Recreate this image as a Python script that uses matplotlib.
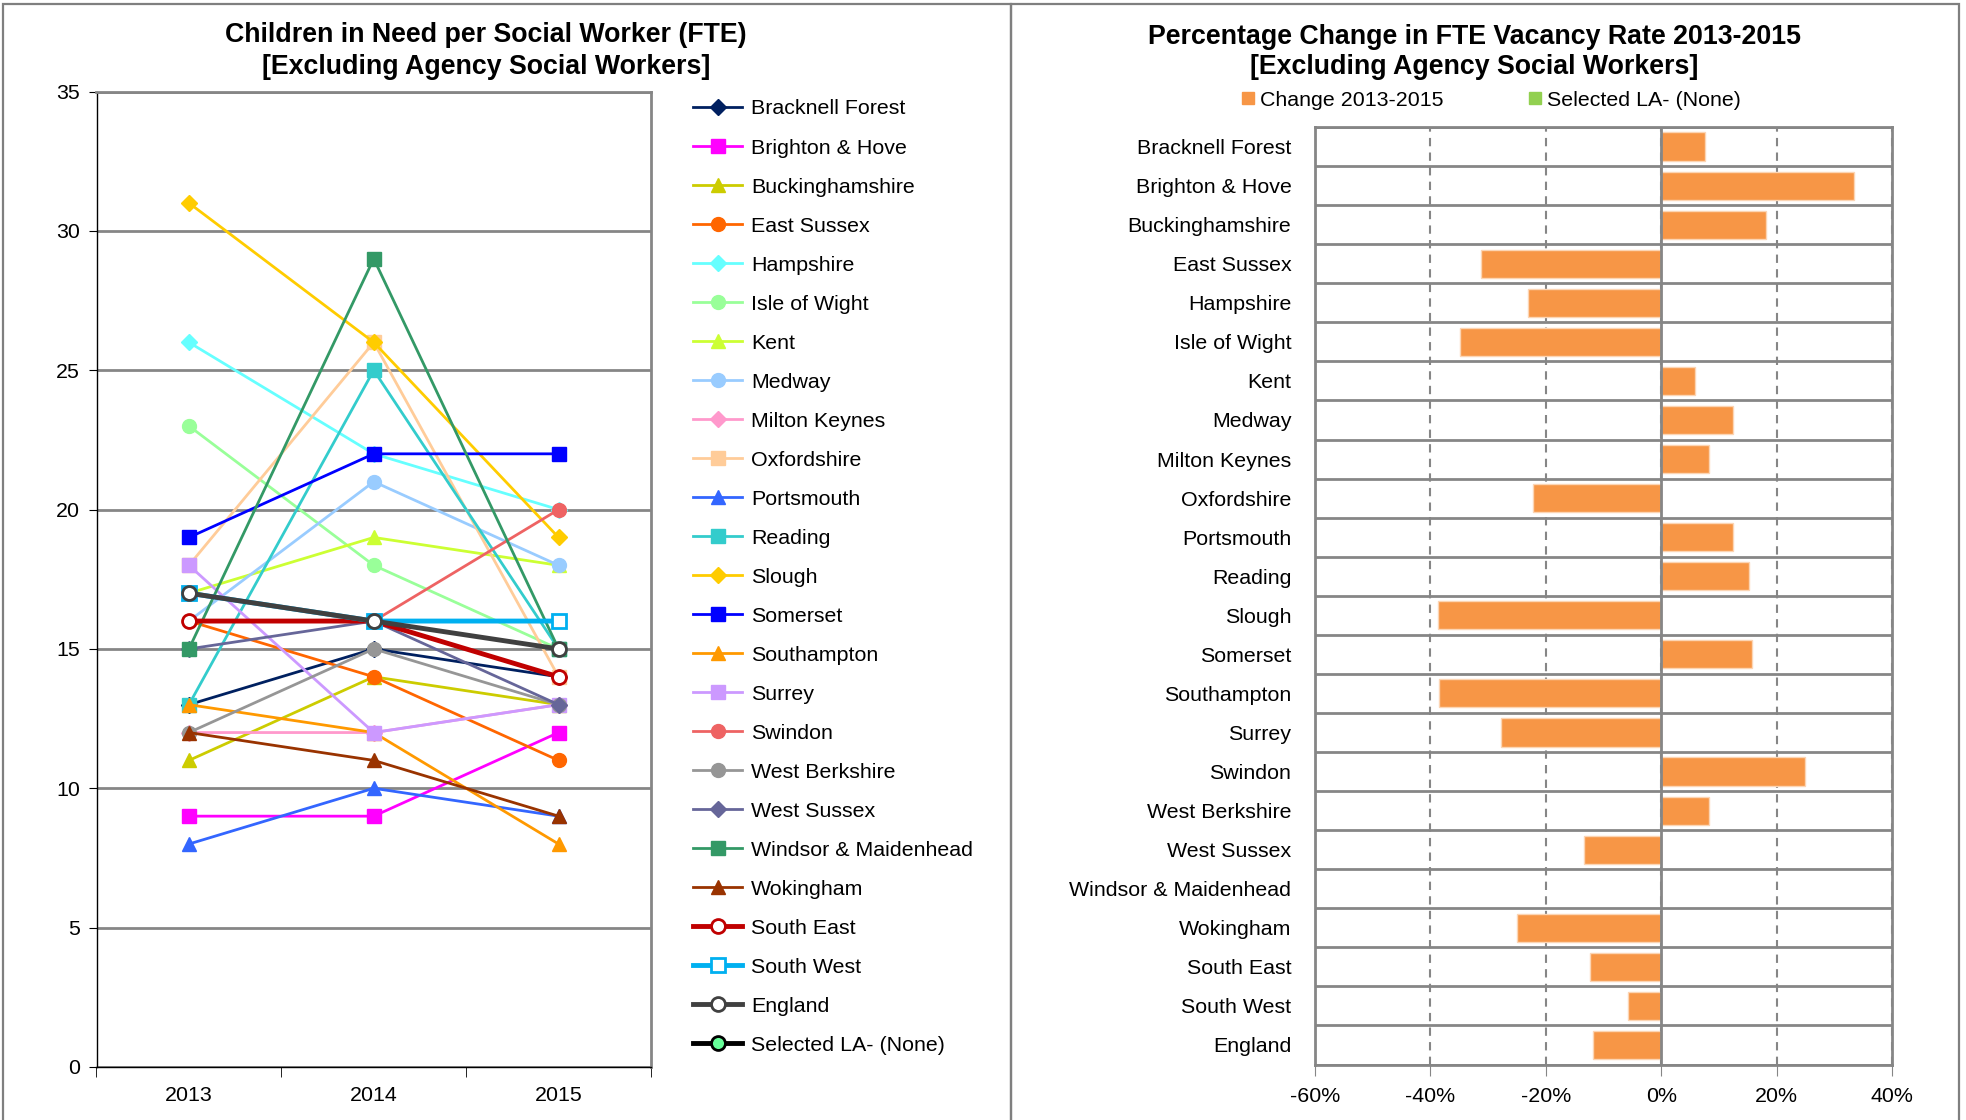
import numpy as np
import matplotlib
matplotlib.use("Agg")
import matplotlib.pyplot as plt
from matplotlib.lines import Line2D
from matplotlib.patches import Rectangle
from matplotlib.ticker import MultipleLocator, PercentFormatter

plt.rcParams['font.family'] = ['Liberation Sans', 'DejaVu Sans']
plt.rcParams['axes.unicode_minus'] = False

# ---- data ----
years = ['2013', '2014', '2015']
areas = ['Bracknell Forest', 'Brighton & Hove', 'Buckinghamshire', 'East Sussex',
         'Hampshire', 'Isle of Wight', 'Kent', 'Medway', 'Milton Keynes',
         'Oxfordshire', 'Portsmouth', 'Reading', 'Slough', 'Somerset',
         'Southampton', 'Surrey', 'Swindon', 'West Berkshire', 'West Sussex',
         'Windsor & Maidenhead', 'Wokingham', 'South East', 'South West',
         'England', 'Selected LA- (None)']

nan = np.nan
cin_2013 = [13, 9, 11, 16, 26, 23, 17, 16, 12, 18, 8, 13, 31, 19, 13, 18, 16, 12, 15, 15, 12, 16, 17, 17, nan]
cin_2014 = [15, 9, 14, 14, 22, 18, 19, 21, 12, 26, 10, 25, 26, 22, 12, 12, 16, 15, 16, 29, 11, 16, 16, 16, nan]
cin_2015 = [14, 12, 13, 11, 20, 15, 18, 18, 13, 14, 9, 15, 19, 22, 8, 13, 20, 13, 13, 15, 9, 14, 16, 15, nan]

bar_areas = areas[:-1]
vacancy_change = [7.6, 33.4, 18.1, -31.3, -23.1, -34.8, 5.8, 12.4, 8.2, -22.2,
                  12.4, 15.3, -38.7, 15.8, -38.5, -27.8, 24.9, 8.2, -13.3, nan,
                  -25.0, -12.4, -5.8, -11.8]

# ---- styles ----
colors = ['#002060', '#FF00FF', '#CCCC00', '#FF6600', '#66FFFF', '#99FF99', '#CCFF33',
          '#99CCFF', '#FF99CC', '#FFCC99', '#3366FF', '#33CCCC', '#FFCC00', '#0000FF',
          '#FF9900', '#CC99FF', '#EE6363', '#969696', '#666699', '#339966', '#993300',
          '#C00000', '#00B0F0', '#404040', '#000000']
markers = ['D', 's', '^', 'o', 'D', 'o', '^', 'o', 'D', 's', '^', 's', 'D', 's', '^',
           's', 'o', 'o', 'D', 's', '^', 'o', 's', 'o', 'o']
grid_col = '#868686'
fs = 15.4

fig = plt.figure(figsize=(19.66, 11.2), dpi=100)

# panel borders
fig.add_artist(Rectangle((3 / 1966, -0.02), 1008 / 1966, 1.02 - 4 / 1120,
                         transform=fig.transFigure, fill=False, ec='#7F7F7F', lw=1.6))
fig.add_artist(Rectangle((1011 / 1966, -0.02), 948 / 1966, 1.02 - 4 / 1120,
                         transform=fig.transFigure, fill=False, ec='#7F7F7F', lw=1.6))

# ---- left: line chart ----
ax1 = fig.add_axes([96.5 / 1966, 1 - 1067 / 1120, 554.5 / 1966, 975.5 / 1120])
x = np.arange(len(years))
handles = []
for i, name in enumerate(areas):
    yv = [cin_2013[i], cin_2014[i], cin_2015[i]]
    c = colors[i]
    regional = i >= 21
    face = 'white' if regional else c
    edge = c
    if name.startswith('Selected'):
        face, edge = '#66FF99', '#000000'
    lw = 3.5 if regional else 2.0
    ms = 8 if markers[i] == 'D' else 10
    h, = ax1.plot(x, yv, color=c, lw=lw, marker=markers[i], ms=ms,
                  mfc=face, mec=edge, mew=2 if regional else 1, label=name,
                  zorder=3 + i * 0.01)
    handles.append(h)

ax1.set_xlim(-0.5, 2.5)
ax1.set_ylim(0, 35)
ax1.yaxis.set_major_locator(MultipleLocator(5))
ax1.grid(axis='y', color=grid_col, lw=2)
ax1.set_axisbelow(True)
ax1.set_xticks(x, years)
ax1.set_xticks([-0.5, 0.5, 1.5, 2.5], minor=True)
ax1.tick_params(axis='x', which='major', length=0, pad=14, labelsize=fs)
ax1.tick_params(axis='x', which='minor', length=7, direction='out')
ax1.tick_params(axis='y', length=6, direction='out', labelsize=fs, pad=6)
for s in ['left', 'bottom']:
    ax1.spines[s].set_color('black')
    ax1.spines[s].set_linewidth(1)
for s in ['top', 'right']:
    ax1.spines[s].set_color(grid_col)
    ax1.spines[s].set_linewidth(2)

ax1.legend(handles=handles, loc='upper left',
           bbox_to_anchor=(693 / 1966, 1 - 99.5 / 1120), bbox_transform=fig.transFigure,
           frameon=False, fontsize=fs, handlelength=2.3, handletextpad=0.42,
           labelspacing=0.936, borderpad=0, borderaxespad=0)

fig.text(486 / 1966, 1 - 51 / 1120,
         'Children in Need per Social Worker (FTE)\n[Excluding Agency Social Workers]',
         ha='center', va='center', fontsize=19.3, fontweight='bold', linespacing=1.25)

# ---- right: bar chart ----
ax2 = fig.add_axes([1315 / 1966, 1 - 1064.5 / 1120, 577 / 1966, 937.5 / 1120])
ypos = np.arange(len(bar_areas))
ax2.barh(ypos, vacancy_change, height=0.72, color='#F79646', edgecolor='#FCD5B4',
         lw=1, zorder=3)
ax2.set_ylim(len(bar_areas) - 0.5, -0.5)
ax2.set_xlim(-60, 40)
ax2.set_xticks(np.arange(-60, 41, 20))
ax2.xaxis.set_major_formatter(PercentFormatter(decimals=0))
ax2.set_yticks(ypos, bar_areas)
ax2.set_yticks(np.arange(-0.5, len(bar_areas), 1), minor=True)
ax2.grid(axis='x', which='major', color=grid_col, lw=1.5, ls=(0, (4, 3)))
ax2.grid(axis='y', which='minor', color=grid_col, lw=2)
ax2.axvline(0, color=grid_col, lw=2, zorder=4)
ax2.set_axisbelow(True)
ax2.tick_params(axis='y', which='both', length=0, labelsize=fs, pad=17)
ax2.tick_params(axis='x', length=8, direction='out', color=grid_col, labelsize=fs, pad=8)
for s in ax2.spines.values():
    s.set_color(grid_col)
    s.set_linewidth(2)

fig.legend(handles=[Line2D([], [], marker='s', ls='', color='#F79646', ms=9),
                    Line2D([], [], marker='s', ls='', color='#92D050', ms=9)],
           labels=['Change 2013-2015', 'Selected LA- (None)'], loc='center',
           bbox_to_anchor=(1491 / 1966, 1 - 100 / 1120), ncol=2, frameon=False,
           fontsize=fs, handlelength=0.6, handletextpad=0.25, columnspacing=4.0)

fig.text(1474 / 1966, 1 - 52 / 1120,
         'Percentage Change in FTE Vacancy Rate 2013-2015\n[Excluding Agency Social Workers]',
         ha='center', va='center', fontsize=19.3, fontweight='bold', linespacing=1.25)

fig.savefig('out.png', dpi=100)
